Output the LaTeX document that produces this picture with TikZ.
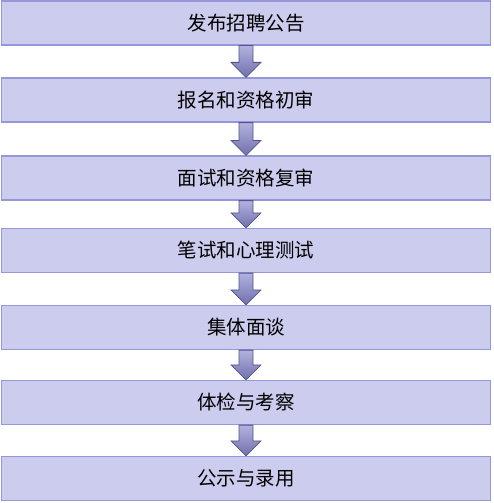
\documentclass[tikz,border=0pt]{standalone}
\usepackage{fontspec}
\newfontfamily\cjk{Noto Sans CJK SC}
\usetikzlibrary{calc}
\definecolor{boxfill}{RGB}{204,204,238}
\definecolor{boxline}{RGB}{150,150,218}
\definecolor{arrowtop}{RGB}{178,178,224}
\definecolor{arrowbot}{RGB}{112,112,172}
\definecolor{arrowline}{RGB}{82,82,142}

\begin{document}
\begin{tikzpicture}[x=1pt,y=1pt,
  stepbox/.style={draw=boxline,fill=boxfill,line width=1.2pt,minimum width=489pt,minimum height=44pt,inner sep=0pt,font=\cjk\fontsize{19.5}{19.5}\selectfont},
  flowarrow/.style={draw=arrowline,line width=0.8pt,top color=arrowtop,bottom color=arrowbot}]
  \useasboundingbox (0,0) rectangle (493,-503);
  \node[stepbox] (s1) at (246,-23) {发布招聘公告};
  \node[stepbox] (s2) at (246,-100) {报名和资格初审};
  \node[stepbox] (s3) at (246,-178) {面试和资格复审};
  \node[stepbox] (s4) at (246,-250.5) {笔试和心理测试};
  \node[stepbox] (s5) at (246,-327.5) {集体面谈};
  \node[stepbox] (s6) at (246,-402.5) {体检与考察};
  \node[stepbox] (s7) at (246,-478.5) {公示与录用};
  % block arrows between the steps
  \foreach \a/\b in {s1/s2,s2/s3,s3/s4,s4/s5,s5/s6,s6/s7}
    \draw[flowarrow] ($(\a.south)+(-7,0)$) -- ($(\b.north)+(-7,15)$) -- ($(\b.north)+(-15,15)$)
      -- (\b.north) -- ($(\b.north)+(15,15)$) -- ($(\b.north)+(7,15)$) -- ($(\a.south)+(7,0)$) -- cycle;
\end{tikzpicture}
\end{document}
